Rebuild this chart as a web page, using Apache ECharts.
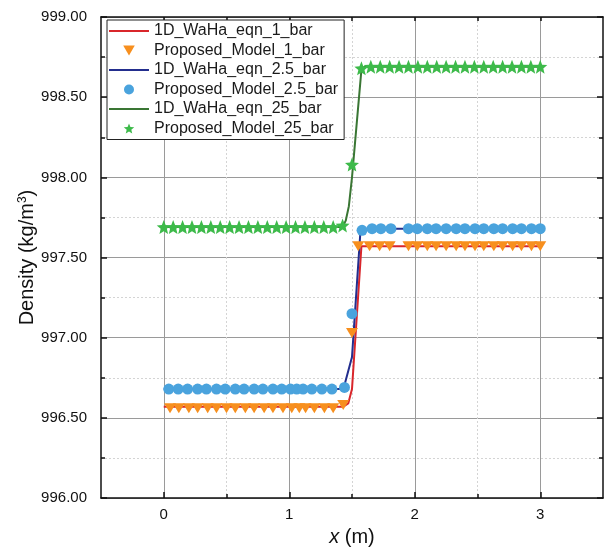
<!DOCTYPE html>
<html>
  <head>
    <meta charset="utf-8" />
    <title>Density</title>
    <script src="https://cdn.jsdelivr.net/npm/echarts@6.0.0/dist/echarts.min.js"></script>
  </head>
  <body style="margin:0">
    <style>
      html, body { width: 604px; height: 552px; background: #fff; }
      #main { width: 604px; height: 552px; }
    </style>
    <div id="main"></div>
    <script type="text/javascript">
      // values: [x (m), density (kg/m3)]
      var waha1 = [[0, 996.57], [1.43, 996.57], [1.47, 996.59], [1.50, 996.68], [1.575, 997.57], [3.0, 997.57]];
      var waha25 = [[0, 996.68], [1.42, 996.68], [1.445, 996.72], [1.50, 996.88], [1.567, 997.66], [1.6, 997.68], [3.0, 997.68]];
      var waha250 = [[0, 997.69], [1.425, 997.69], [1.45, 997.73], [1.475, 997.82], [1.50, 998.0], [1.575, 998.67], [1.6, 998.69], [3.0, 998.69]];

      var model1 = [
        [0.05, 996.56], [0.12, 996.56], [0.20, 996.56], [0.27, 996.56], [0.35, 996.56],
        [0.42, 996.56], [0.50, 996.56], [0.57, 996.56], [0.65, 996.56], [0.72, 996.56],
        [0.80, 996.56], [0.87, 996.56], [0.95, 996.56], [1.02, 996.56], [1.08, 996.56],
        [1.13, 996.56], [1.20, 996.56], [1.28, 996.56], [1.35, 996.56], [1.43, 996.58],
        [1.50, 997.03],
        [1.55, 997.57], [1.64, 997.57], [1.72, 997.57], [1.80, 997.57], [1.95, 997.57],
        [2.02, 997.57], [2.10, 997.57], [2.17, 997.57], [2.25, 997.57], [2.33, 997.57],
        [2.40, 997.57], [2.48, 997.57], [2.55, 997.57], [2.63, 997.57], [2.70, 997.57],
        [2.78, 997.57], [2.85, 997.57], [2.93, 997.57], [3.00, 997.57]
      ];
      var model25 = [
        [0.04, 996.68], [0.115, 996.68], [0.19, 996.68], [0.27, 996.68], [0.34, 996.68],
        [0.42, 996.68], [0.49, 996.68], [0.57, 996.68], [0.64, 996.68], [0.72, 996.68],
        [0.79, 996.68], [0.87, 996.68], [0.94, 996.68], [1.01, 996.68], [1.06, 996.68],
        [1.11, 996.68], [1.18, 996.68], [1.26, 996.68], [1.34, 996.68], [1.44, 996.69],
        [1.50, 997.15],
        [1.58, 997.67], [1.66, 997.68], [1.73, 997.68], [1.81, 997.68], [1.95, 997.68],
        [2.02, 997.68], [2.10, 997.68], [2.17, 997.68], [2.25, 997.68], [2.33, 997.68],
        [2.40, 997.68], [2.48, 997.68], [2.55, 997.68], [2.63, 997.68], [2.70, 997.68],
        [2.78, 997.68], [2.85, 997.68], [2.93, 997.68], [3.00, 997.68]
      ];
      var model250 = [
        [0, 997.69], [0.075, 997.69], [0.15, 997.69], [0.225, 997.69], [0.30, 997.69],
        [0.375, 997.69], [0.45, 997.69], [0.525, 997.69], [0.60, 997.69], [0.675, 997.69],
        [0.75, 997.69], [0.825, 997.69], [0.90, 997.69], [0.975, 997.69], [1.05, 997.69],
        [1.125, 997.69], [1.20, 997.69], [1.275, 997.69], [1.35, 997.69], [1.425, 997.70],
        [1.50, 998.08],
        [1.575, 998.68], [1.65, 998.69], [1.725, 998.69], [1.80, 998.69], [1.875, 998.69],
        [1.95, 998.69], [2.025, 998.69], [2.10, 998.69], [2.175, 998.69], [2.25, 998.69],
        [2.325, 998.69], [2.40, 998.69], [2.475, 998.69], [2.55, 998.69], [2.625, 998.69],
        [2.70, 998.69], [2.775, 998.69], [2.85, 998.69], [2.925, 998.69], [3.00, 998.69]
      ];

      var names = ['1D_WaHa_eqn_1_bar', 'Proposed_Model_1_bar', '1D_WaHa_eqn_2.5_bar',
                   'Proposed_Model_2.5_bar', '1D_WaHa_eqn_25_bar', 'Proposed_Model_25_bar'];
      var xMajor = [0, 1, 2, 3];
      var xMinor = [0.5, 1.5, 2.5];
      var xTop = [0, 0.5, 1, 1.5, 2, 2.5, 3];

      var font = 'Liberation Sans, Arial, sans-serif';
      var starPath = 'path://M50,0L62.93,32.2L97.55,34.55L70.92,56.8L79.39,90.45L50,72L20.61,90.45L29.08,56.8L2.45,34.55L37.07,32.2Z';
      var trianglePath = 'path://M0,0L11,0L5.5,9.5Z';
      var linePath = 'path://M0,0H40V2.2H0Z';

      var myChart = echarts.init(document.getElementById('main'));

      function lineSeries(name, data, color) {
        return {
          name: name,
          type: 'line',
          data: data,
          symbol: 'none',
          color: color,
          lineStyle: { width: 2, color: color },
          z: 2
        };
      }
      function dotSeries(name, data, color, symbol, size, rot) {
        return {
          name: name,
          type: 'scatter',
          data: data,
          symbol: symbol,
          symbolSize: size,
          symbolRotate: rot,
          itemStyle: { color: color, opacity: 1 },
          z: 3
        };
      }

      var option = {
        animation: false,
        backgroundColor: '#fff',
        textStyle: { fontFamily: font },
        grid: { left: 101, right: 1, top: 17, bottom: 49 },
        legend: {
          data: [
            { name: names[0], icon: linePath },
            { name: names[1], icon: trianglePath },
            { name: names[2], icon: linePath },
            { name: names[3], icon: 'circle' },
            { name: names[4], icon: linePath },
            { name: names[5], icon: starPath }
          ],
          orient: 'vertical',
          left: 107,
          top: 20,
          padding: [3, 6, 3, 2],
          itemWidth: 40,
          itemHeight: 10,
          itemGap: 3.5,
          symbolKeepAspect: true,
          backgroundColor: '#fff',
          borderColor: '#222',
          borderWidth: 1,
          textStyle: { fontSize: 16, lineHeight: 15, color: '#1a1a1a', fontFamily: font }
        },
        xAxis: [
          {
            type: 'value', position: 'bottom', min: -0.5, max: 3.5, interval: 0.5,
            name: '{it|x} (m)',
            nameLocation: 'middle',
            nameGap: 27,
            nameTextStyle: {
              fontSize: 20, color: '#111', fontFamily: font,
              rich: { it: { fontSize: 20, fontStyle: 'italic', color: '#111', fontFamily: font } }
            },
            axisLine: { show: true, onZero: false, lineStyle: { color: '#111', width: 1.5 } },
            axisTick: { inside: true, length: 6, customValues: xMajor, lineStyle: { color: '#111', width: 1.5 } },
            axisLabel: { customValues: xMajor, margin: 9, fontSize: 15, color: '#111', fontFamily: font },
            splitLine: { show: true, lineStyle: { color: '#9a9a9a', width: 1 } }
          },
          {
            type: 'value', position: 'bottom', min: -0.5, max: 3.5, interval: 0.5,
            axisLine: { show: false },
            axisTick: { inside: true, length: 4, customValues: xMinor, lineStyle: { color: '#111', width: 1.5 } },
            axisLabel: { show: false },
            splitLine: { show: true, lineStyle: { color: '#d4d4d4', width: 1, type: [2, 2] } }
          },
          {
            type: 'value', position: 'top', min: -0.5, max: 3.5, interval: 0.5,
            axisLine: { show: true, onZero: false, lineStyle: { color: '#111', width: 1.5 } },
            axisTick: { inside: true, length: 4, customValues: xTop, lineStyle: { color: '#111', width: 1.5 } },
            axisLabel: { show: false },
            splitLine: { show: false }
          }
        ],
        yAxis: [
          {
            type: 'value', position: 'left', min: 996, max: 999, interval: 0.5,
            name: 'Density (kg/m{sup|3})',
            nameLocation: 'middle',
            nameGap: 64,
            nameMoveOverlap: false,
            nameTextStyle: {
              fontSize: 20, color: '#111', fontFamily: font,
              rich: { sup: { fontSize: 12, verticalAlign: 'top', color: '#111', fontFamily: font } }
            },
            axisLine: { show: true, onZero: false, lineStyle: { color: '#111', width: 1.5 } },
            axisTick: { inside: true, length: 6, lineStyle: { color: '#111', width: 1.5 } },
            minorTick: { show: true, splitNumber: 2, length: 4, lineStyle: { color: '#111', width: 1.5 } },
            axisLabel: {
              margin: 14, fontSize: 15, color: '#111', fontFamily: font,
              formatter: function (v) { return v.toFixed(2); }
            },
            splitLine: { show: true, lineStyle: { color: '#9a9a9a', width: 1 } },
            minorSplitLine: { show: true, lineStyle: { color: '#d4d4d4', width: 1, type: [2, 2] } }
          },
          {
            type: 'value', position: 'right', min: 996, max: 999, interval: 0.5,
            axisLine: { show: true, onZero: false, lineStyle: { color: '#111', width: 1.5 } },
            axisTick: { inside: true, length: 6, lineStyle: { color: '#111', width: 1.5 } },
            minorTick: { show: true, splitNumber: 2, length: 4, lineStyle: { color: '#111', width: 1.5 } },
            axisLabel: { show: false },
            splitLine: { show: false }
          }
        ],
        series: [
          lineSeries(names[0], waha1, '#d9262b'),
          dotSeries(names[1], model1, '#f78f1e', 'triangle', [12, 10], 180),
          lineSeries(names[2], waha25, '#232e8e'),
          dotSeries(names[3], model25, '#4aa3dd', 'circle', 11, 0),
          lineSeries(names[4], waha250, '#3a7634'),
          dotSeries(names[5], model250, '#3dba4a', starPath, 14, 0)
        ]
      };

      myChart.setOption(option);
    </script>
  </body>
</html>
